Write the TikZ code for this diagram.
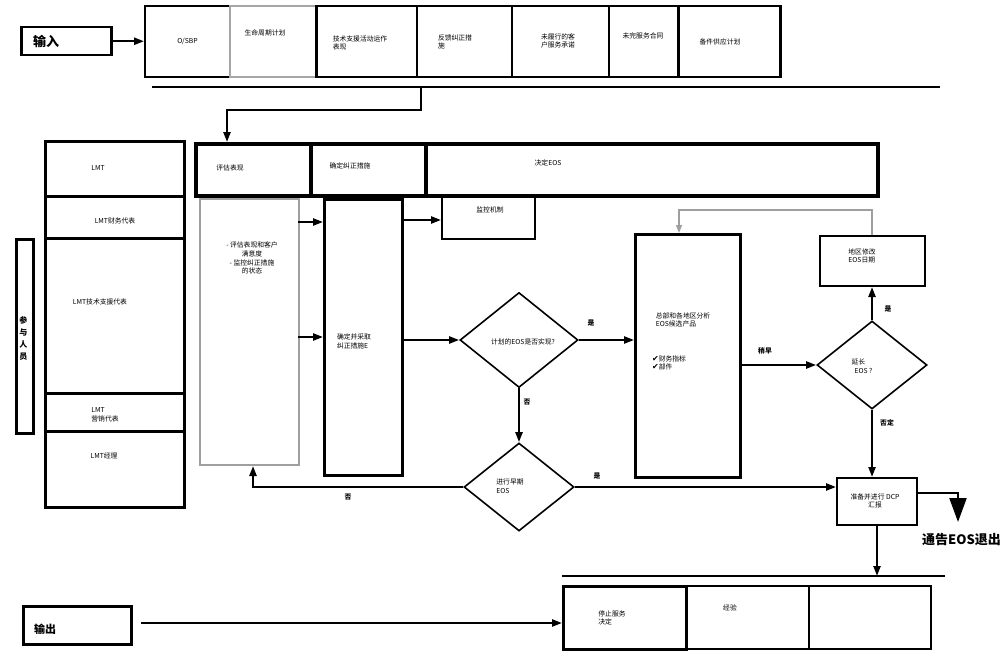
\documentclass[tikz,border=0pt]{standalone}
\usepackage{fontspec}
\setmainfont{Noto Sans CJK SC}
\newfontfamily\dejavu{DejaVu Sans}
\usetikzlibrary{shapes.geometric,arrows.meta}
\begin{document}
\begin{tikzpicture}[x=1pt,y=-1pt,
  every node/.style={font=\fontsize{6.8}{8.8}\selectfont},
  bx/.style={draw, line width=2pt, anchor=north west, inner sep=0pt, align=center},
  hb/.style={draw, line width=4pt, anchor=north west, inner sep=0pt},
  txt/.style={align=left, inner sep=0pt},
  dia/.style={draw, diamond, line width=1.6pt, inner sep=0pt},
  ln/.style={line width=2.2pt},
  arr/.style={line width=2.2pt, -{Triangle[length=10pt,width=7pt]}},
  lab/.style={font=\fontsize{6.8}{8}\selectfont\bfseries, inner sep=0pt},
  big/.style={font=\fontsize{13}{15}\selectfont\bfseries, inner sep=0pt}]
\useasboundingbox (0,0) rectangle (1008,658);

% ---------- input ----------
\node[bx, line width=2.5pt, minimum width=90, minimum height=28] (in) at (20,26) {};
\node[big, anchor=west] (intxt) at (33,41) {输入};
\node[bx, minimum width=85, minimum height=71] (i1) at (144,5) {O/SBP};
\node[bx, draw=gray!70, minimum width=86, minimum height=71] (i2) at (229,5) {};
\node[bx, minimum width=101, minimum height=71] (i3) at (315,5) {};
\node[bx, minimum width=95, minimum height=71] (i4) at (416,5) {};
\node[bx, minimum width=97, minimum height=71] (i5) at (511,5) {};
\node[bx, minimum width=69, minimum height=71] (i6) at (608,5) {};
\node[bx, line width=2.5pt, minimum width=102, minimum height=71] (i7) at (677,5) {};
\draw[line width=2pt] (i2.north east) -- (i2.south east);
\node[txt] (t2) at (265,33) {生命周期计划};
\node[txt] (t3) at (360,43) {技术支援活动运作\\表现};
\node[txt] (t4) at (455,42) {反馈纠正措\\施};
\node[txt, align=center] (t5) at (558,41) {未履行的客\\户服务承诺};
\node[txt] (t6) at (643,36) {未完服务合同};
\node[txt] (t7) at (720,42) {备件供应计划};
\draw[arr] (in.east) -- (i1.west |- in.east);

\coordinate (bl) at (152,87);
\coordinate (br) at (940,87);
\draw[ln] (bl) -- (br);
\coordinate (j1) at (421,87);
\coordinate (j2) at (421,110);
\coordinate (j3) at (227,110);

% ---------- process header ----------
\node[hb, minimum width=115, minimum height=52] (p1) at (194,142) {};
\node[hb, minimum width=115, minimum height=52] (p2) at (309,142) {};
\node[hb, minimum width=452, minimum height=52] (p3) at (424,142) {};
\node[txt] (pt1) at (230,168) {评估表现};
\node[txt] (pt2) at (350,166) {确定纠正措施};
\node[txt] (pt3) at (548,163) {决定EOS};
\draw[arr] (j1) -- (j2) -- (j3) -- (j3 |- p1.north);

% ---------- participants ----------
\node[bx, line width=2.5pt, minimum width=139, minimum height=55] (l1) at (44,140) {};
\node[bx, line width=2.5pt, minimum width=139, minimum height=42] (l2) at (44,195) {};
\node[bx, line width=2.5pt, minimum width=139, minimum height=155] (l3) at (44,237) {};
\node[bx, line width=2.5pt, minimum width=139, minimum height=38] (l4) at (44,392) {};
\node[bx, line width=2.5pt, minimum width=139, minimum height=76] (l5) at (44,430) {};
\node[txt] (lt1) at (98,168) {LMT};
\node[txt] (lt2) at (115,221) {LMT财务代表};
\node[txt] (lt3) at (100,302) {LMT技术支援代表};
\node[txt] (lt4) at (105,415) {LMT\\营销代表};
\node[txt] (lt5) at (104,456) {LMT经理};
\node[bx, line width=2.5pt, minimum width=17, minimum height=194] (pp) at (15,238) {};
\node[txt, align=center, font=\fontsize{8}{12}\selectfont\bfseries] (ppt) at (23.5,338) {参\\与\\人\\员};

% ---------- evaluate / correct ----------
\node[bx, draw=gray!75, minimum width=99, minimum height=266] (ev) at (199,198) {};
\node[txt, align=center] (evt) at (252,258) {- 评估表现和客户\\满意度\\- 监控纠正措施\\的状态};
\node[bx, line width=2.5pt, minimum width=78, minimum height=276] (co) at (323,198) {};
\node[txt] (cot) at (354,341) {确定并采取\\纠正措施E};
\draw[arr] (298,222) -- (co.west |- 0,222);
\draw[arr] (298,337) -- (co.west |- 0,337);
\node[bx, minimum width=93, minimum height=42] (mo) at (441,196) {};
\node[txt] (mot) at (490,210) {监控机制};
\draw[arr] (co.east |- 0,220) -- (mo.west |- 0,220);

% ---------- decisions ----------
\node[dia, minimum width=118, minimum height=95] (d1) at (519,340) {};
\node[txt] (d1t) at (523,342) {计划的EOS是否实现?};
\draw[arr] (co.east |- d1.west) -- (d1.west);
\node[dia, minimum width=110, minimum height=88] (d2) at (519,487) {};
\node[txt] (d2t) at (510,486) {进行早期\\EOS};
\draw[arr] (d1.south) -- (d2.north);
\node[lab] (no1) at (527,402) {否};

\node[bx, line width=2.5pt, minimum width=105, minimum height=243] (hq) at (634,233) {};
\node[txt] (hqt) at (683,320) {总部和各地区分析\\EOS候选产品};
\node[txt] (hqc) at (669,363) {{\dejavu\fontsize{8}{8.8}\selectfont ✔}财务指标\\{\dejavu\fontsize{8}{8.8}\selectfont ✔}部件};
\draw[arr] (d1.east) -- (hq.west |- d1.east);
\node[lab] (yes1) at (591,323) {是};

\node[dia, minimum width=110, minimum height=88] (d3) at (872,365) {};
\node[txt] (d3t) at (862,366) {延长\\\ \ EOS ?};
\draw[arr] (hq.east |- d3.west) -- (d3.west);
\node[lab] (early) at (765,351) {稍早};

\node[bx, minimum width=105, minimum height=50] (rg) at (819,235) {};
\node[txt] (rgt) at (862,256) {地区修改\\EOS日期};
\draw[arr] (d3.north) -- (rg.south -| d3.north);
\node[lab] (yes3) at (888,309) {是};
\coordinate (lp1) at (872,210);
\coordinate (lp2) at (679,210);
\draw[line width=1.4pt, draw=gray!75, -{Triangle[length=8pt,width=6pt]}] (rg.north -| lp1) -- (lp1) -- (lp2) -- (lp2 |- hq.north);

\node[bx, minimum width=80, minimum height=47] (dcp) at (836,477) {};
\node[txt, align=center] (dcpt) at (875,501) {准备并进行 DCP\\汇报};
\draw[arr] (d3.south) -- (dcp.north -| d3.south);
\node[lab] (no3) at (887,423) {否定};
\draw[arr] (d2.east) -- (dcp.west |- d2.east);
\node[lab] (yes2) at (597,476) {是};

\coordinate (fb1) at (253,487);
\draw[arr] (d2.west) -- (fb1) -- (ev.south -| fb1);
\node[lab] (no2) at (348,497) {否};

\coordinate (ex1) at (958,493);
\coordinate (ex2) at (958,522);
\draw[line width=2.2pt, -{Triangle[length=24pt,width=17pt]}] (dcp.east |- ex1) -- (ex1) -- (ex2);
\node[big, anchor=west] (ext) at (922,540) {通告EOS退出};

% ---------- output ----------
\coordinate (ol) at (562,576);
\coordinate (or) at (945,576);
\draw[line width=2.6pt] (ol) -- (or);
\draw[arr] (dcp.south) -- (dcp.south |- ol);
\node[bx, line width=2.5pt, minimum width=123, minimum height=63] (o1) at (562,585) {};
\node[bx, minimum width=123, minimum height=63] (o2) at (685,585) {};
\node[bx, minimum width=122, minimum height=63] (o3) at (808,585) {};
\node[txt] (o1t) at (612,618) {停止服务\\决定};
\node[txt] (o2t) at (730,608) {经验};
\node[bx, line width=2.5pt, minimum width=108, minimum height=38] (out) at (22,605) {};
\node[big, font=\fontsize{11}{13}\selectfont\bfseries, anchor=west] (outt) at (34,629) {输出};
\draw[arr] (141,623) -- (o1.west |- 0,623);
\end{tikzpicture}
\end{document}
